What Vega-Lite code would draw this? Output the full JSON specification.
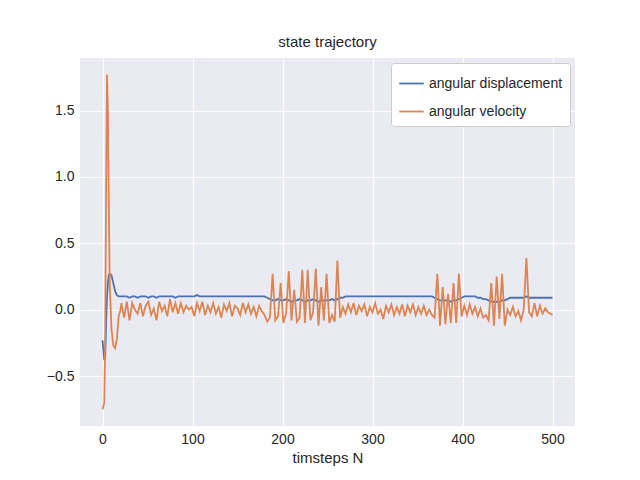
{
"$schema":"https://vega.github.io/schema/vega-lite/v6.json",
"width":495,"height":368,
"autosize":"none",
"padding":{"left":80,"top":58,"right":65,"bottom":54},
"background":"white",
"config":{"view":{"fill":"#EAEAF2","stroke":null},"font":"Liberation Sans",
"axis":{"gridColor":"white","gridWidth":1.2,"domain":false,"ticks":false,"labelFontSize":14,"labelColor":"#262626","titleFontSize":15,"titleFontWeight":"normal","titleColor":"#262626","labelPadding":6},
"title":{"fontSize":15,"fontWeight":"normal","color":"#262626"}},
"title":{"text":"state trajectory","offset":8},
"data":{"values":[
{"t":0,"d":-0.23,"v":-0.75},{"t":1,"d":-0.3,"v":-0.73},{"t":2,"d":-0.38,"v":-0.7},{"t":3,"d":-0.36,"v":-0.2},{"t":4,"d":-0.1,"v":0.9},{"t":5,"d":0.1,"v":1.77},{"t":6,"d":0.2,"v":1.5},{"t":7,"d":0.26,"v":0.8},{"t":8,"d":0.27,"v":0.2},{"t":10,"d":0.26,"v":-0.15},{"t":12,"d":0.2,"v":-0.27},{"t":14,"d":0.14,"v":-0.29},{"t":16,"d":0.11,"v":-0.22},{"t":18,"d":0.1,"v":-0.05},{"t":20,"d":0.1,"v":0.0},
{"t":21,"d":0.1,"v":0.05},{"t":24,"d":0.1,"v":-0.06},{"t":27,"d":0.1,"v":0.06},{"t":30,"d":0.09,"v":-0.08},{"t":33,"d":0.1,"v":0.05},{"t":36,"d":0.1,"v":0.0},{"t":39,"d":0.09,"v":-0.03},{"t":42,"d":0.1,"v":0.05},{"t":45,"d":0.1,"v":-0.05},{"t":48,"d":0.1,"v":0.03},{"t":51,"d":0.09,"v":0.06},{"t":54,"d":0.1,"v":-0.04},{"t":57,"d":0.1,"v":0.01},{"t":60,"d":0.09,"v":-0.08},{"t":63,"d":0.1,"v":0.06},{"t":66,"d":0.1,"v":-0.01},{"t":69,"d":0.1,"v":0.03},{"t":72,"d":0.1,"v":-0.05},{"t":75,"d":0.1,"v":0.08},{"t":78,"d":0.1,"v":-0.02},{"t":81,"d":0.09,"v":0.05},{"t":84,"d":0.1,"v":-0.03},{"t":87,"d":0.1,"v":0.05},{"t":90,"d":0.1,"v":-0.02},{"t":93,"d":0.1,"v":0.03},{"t":96,"d":0.1,"v":0.0},{"t":99,"d":0.1,"v":0.02},{"t":102,"d":0.1,"v":-0.05},{"t":105,"d":0.11,"v":0.05},{"t":108,"d":0.1,"v":-0.01},{"t":111,"d":0.1,"v":0.06},{"t":114,"d":0.1,"v":-0.04},{"t":117,"d":0.1,"v":0.03},{"t":120,"d":0.1,"v":-0.02},{"t":123,"d":0.1,"v":0.05},{"t":126,"d":0.1,"v":-0.03},{"t":129,"d":0.1,"v":0.02},{"t":132,"d":0.1,"v":-0.06},{"t":135,"d":0.1,"v":0.04},{"t":138,"d":0.1,"v":-0.01},{"t":141,"d":0.1,"v":0.05},{"t":144,"d":0.1,"v":-0.05},{"t":147,"d":0.1,"v":0.03},{"t":150,"d":0.1,"v":0.01},{"t":153,"d":0.1,"v":-0.04},{"t":156,"d":0.1,"v":0.05},{"t":159,"d":0.1,"v":-0.02},{"t":162,"d":0.1,"v":0.04},{"t":165,"d":0.1,"v":-0.03},{"t":168,"d":0.1,"v":0.02},{"t":171,"d":0.1,"v":-0.05},{"t":174,"d":0.1,"v":0.03},{"t":177,"d":0.1,"v":-0.01},{"t":180,"d":0.1,"v":-0.04},{"t":183,"d":0.09,"v":-0.09},{"t":186,"d":0.08,"v":-0.06},{"t":189,"d":0.07,"v":0.27},{"t":192,"d":0.07,"v":-0.08},{"t":195,"d":0.08,"v":-0.05},{"t":198,"d":0.07,"v":0.2},{"t":201,"d":0.07,"v":-0.1},{"t":204,"d":0.08,"v":-0.03},{"t":207,"d":0.07,"v":0.29},{"t":210,"d":0.06,"v":-0.08},{"t":213,"d":0.07,"v":0.15},{"t":216,"d":0.07,"v":-0.09},{"t":219,"d":0.08,"v":-0.06},{"t":222,"d":0.07,"v":0.3},{"t":225,"d":0.06,"v":-0.1},{"t":228,"d":0.07,"v":0.3},{"t":231,"d":0.07,"v":-0.08},{"t":234,"d":0.08,"v":-0.02},{"t":237,"d":0.07,"v":0.31},{"t":240,"d":0.06,"v":-0.12},{"t":243,"d":0.07,"v":0.17},{"t":246,"d":0.07,"v":-0.08},{"t":249,"d":0.07,"v":0.27},{"t":252,"d":0.07,"v":-0.1},{"t":255,"d":0.08,"v":-0.04},{"t":258,"d":0.07,"v":-0.09},{"t":261,"d":0.08,"v":0.37},{"t":264,"d":0.09,"v":-0.06},{"t":267,"d":0.09,"v":0.02},{"t":270,"d":0.1,"v":-0.03},{"t":273,"d":0.1,"v":0.04},{"t":276,"d":0.1,"v":-0.02},{"t":279,"d":0.1,"v":0.05},{"t":282,"d":0.1,"v":-0.04},{"t":285,"d":0.1,"v":0.03},{"t":288,"d":0.1,"v":-0.01},{"t":291,"d":0.1,"v":0.04},{"t":294,"d":0.1,"v":-0.05},{"t":297,"d":0.1,"v":0.02},{"t":300,"d":0.1,"v":-0.02},{"t":303,"d":0.1,"v":0.05},{"t":306,"d":0.1,"v":-0.03},{"t":309,"d":0.1,"v":0.0},{"t":312,"d":0.1,"v":-0.07},{"t":315,"d":0.1,"v":0.03},{"t":318,"d":0.1,"v":-0.02},{"t":321,"d":0.1,"v":0.04},{"t":324,"d":0.1,"v":-0.04},{"t":327,"d":0.1,"v":0.02},{"t":330,"d":0.1,"v":-0.03},{"t":333,"d":0.1,"v":0.04},{"t":336,"d":0.1,"v":-0.05},{"t":339,"d":0.1,"v":0.03},{"t":342,"d":0.1,"v":-0.02},{"t":345,"d":0.1,"v":0.04},{"t":348,"d":0.1,"v":-0.04},{"t":351,"d":0.1,"v":0.02},{"t":354,"d":0.1,"v":-0.03},{"t":357,"d":0.1,"v":0.03},{"t":360,"d":0.1,"v":-0.04},{"t":363,"d":0.1,"v":0.0},{"t":366,"d":0.1,"v":-0.04},{"t":369,"d":0.09,"v":-0.06},{"t":372,"d":0.08,"v":0.27},{"t":375,"d":0.07,"v":-0.12},{"t":378,"d":0.07,"v":0.17},{"t":381,"d":0.07,"v":-0.11},{"t":384,"d":0.07,"v":0.12},{"t":387,"d":0.06,"v":-0.1},{"t":390,"d":0.07,"v":0.2},{"t":393,"d":0.07,"v":-0.1},{"t":396,"d":0.08,"v":0.27},{"t":399,"d":0.09,"v":-0.05},{"t":402,"d":0.1,"v":0.03},{"t":405,"d":0.1,"v":-0.04},{"t":408,"d":0.1,"v":0.04},{"t":411,"d":0.1,"v":-0.03},{"t":414,"d":0.1,"v":0.02},{"t":417,"d":0.09,"v":-0.05},{"t":420,"d":0.09,"v":0.01},{"t":423,"d":0.08,"v":-0.06},{"t":426,"d":0.08,"v":-0.04},{"t":429,"d":0.07,"v":-0.08},{"t":432,"d":0.06,"v":0.2},{"t":435,"d":0.06,"v":-0.12},{"t":438,"d":0.06,"v":0.25},{"t":441,"d":0.06,"v":-0.07},{"t":444,"d":0.07,"v":0.27},{"t":447,"d":0.07,"v":-0.12},{"t":450,"d":0.08,"v":0.0},{"t":453,"d":0.09,"v":-0.04},{"t":456,"d":0.09,"v":0.02},{"t":459,"d":0.09,"v":-0.05},{"t":462,"d":0.09,"v":-0.01},{"t":465,"d":0.09,"v":-0.08},{"t":468,"d":0.09,"v":0.0},{"t":471,"d":0.1,"v":0.39},{"t":474,"d":0.09,"v":-0.02},{"t":477,"d":0.09,"v":-0.05},{"t":480,"d":0.09,"v":0.05},{"t":483,"d":0.09,"v":-0.05},{"t":486,"d":0.09,"v":0.03},{"t":489,"d":0.09,"v":-0.03},{"t":492,"d":0.09,"v":0.01},{"t":495,"d":0.09,"v":-0.02},{"t":498,"d":0.09,"v":-0.03},{"t":500,"d":0.09,"v":-0.04}
]},
"transform":[{"fold":["d","v"],"as":["key","val"]},
{"lookup":"key","from":{"data":{"values":[{"key":"d","name":"angular displacement"},{"key":"v","name":"angular velocity"}]},"key":"key","fields":["name"]}}],
"mark":{"type":"line","strokeWidth":1.8,"clip":true},
"encoding":{
"x":{"field":"t","type":"quantitative","title":"timsteps N","scale":{"domain":[-25,525],"nice":false,"zero":false},"axis":{"values":[0,100,200,300,400,500]}},
"y":{"field":"val","type":"quantitative","title":null,"scale":{"domain":[-0.876,1.896],"nice":false,"zero":false},"axis":{"values":[-0.5,0,0.5,1,1.5],"labelExpr":"replace(format(datum.value,'.1f'),'-','−')"}},
"color":{"field":"name","type":"nominal","scale":{"domain":["angular displacement","angular velocity"],"range":["#4C72B0","#DD8452"]},
"legend":{"title":null,"orient":"top-right","offset":5,"fillColor":"white","strokeColor":"#cccccc","padding":7,"cornerRadius":3,"labelFontSize":14,"labelColor":"#262626","symbolType":"stroke","symbolSize":600,"symbolStrokeWidth":1.8,"rowPadding":7}},
"order":{"field":"t","type":"quantitative"}
}
}
